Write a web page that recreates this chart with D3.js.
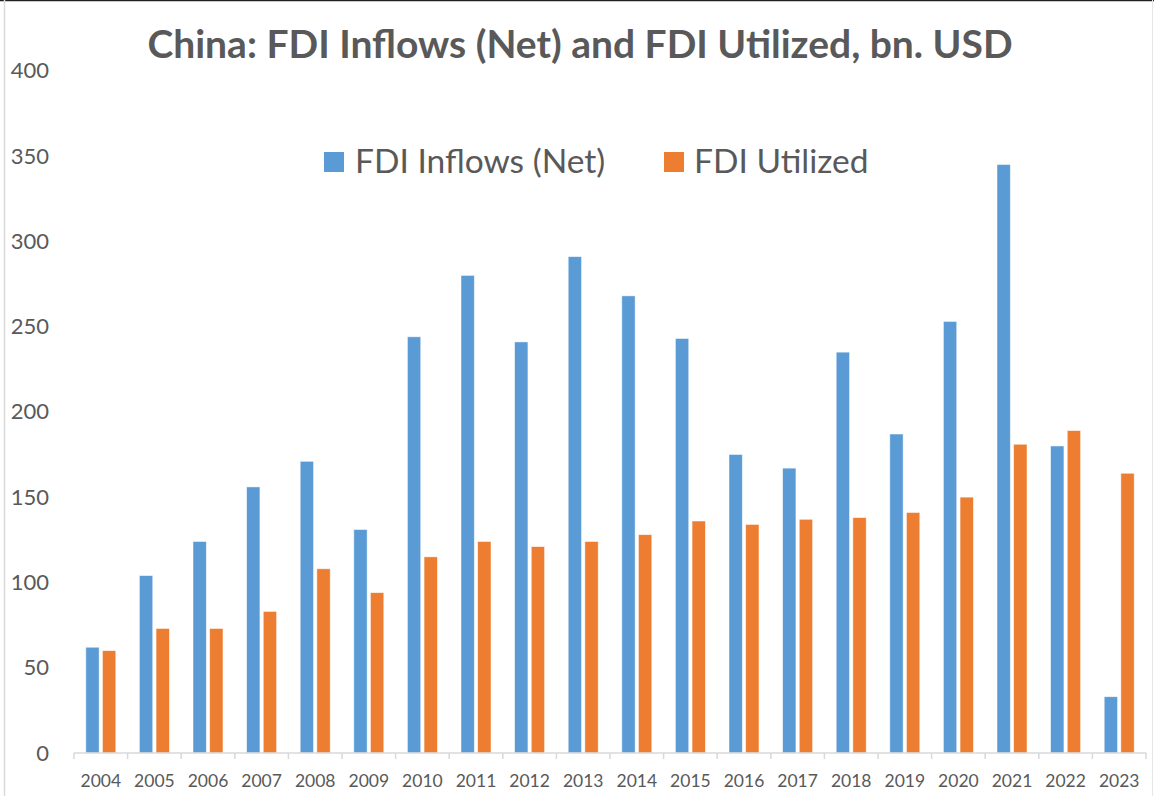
<!DOCTYPE html>
<html>
<head>
<meta charset="utf-8">
<script src="https://cdn.jsdelivr.net/npm/d3@7"></script>
<style>
  html, body { margin: 0; padding: 0; background: #fff; }
  svg { display: block; }
</style>
</head>
<body>
<svg id="chart"></svg>
<script>
const years = ['2004', '2005', '2006', '2007', '2008', '2009', '2010', '2011', '2012', '2013',
  '2014', '2015', '2016', '2017', '2018', '2019', '2020', '2021', '2022', '2023'];
const inflowsNet = [62, 104, 124, 156, 171, 131, 244, 280, 241, 291,
  268, 243, 175, 167, 235, 187, 253, 345, 180, 33];
const utilized = [60, 73, 73, 83, 108, 94, 115, 124, 121, 124,
  128, 136, 134, 137, 138, 141, 150, 181, 189, 164];
const seriesNames = ['FDI Inflows (Net)', 'FDI Utilized'];
const seriesColors = ['#5B9BD5', '#ED7D31'];
const yTicks = [0, 50, 100, 150, 200, 250, 300, 350, 400];

const width = 1154;
const height = 796;
const font = 'Lato, "Open Sans", sans-serif';
const textColor = '#595959';

const svg = d3.select('#chart').attr('width', width).attr('height', height);

svg.append('rect').attr('width', width).attr('height', height).attr('fill', '#fff');

// frame edges, as in the cropped screenshot
svg.append('line').attr('x1', 0).attr('x2', width).attr('y1', 0.5).attr('y2', 0.5)
  .attr('stroke', '#222').attr('stroke-width', 1.5);
svg.append('line').attr('x1', 4.5).attr('x2', 4.5).attr('y1', 0).attr('y2', height)
  .attr('stroke', '#d9d9d9').attr('stroke-width', 1.5);
svg.append('line').attr('x1', width - 1.5).attr('x2', width - 1.5).attr('y1', 0).attr('y2', height)
  .attr('stroke', '#e6e6e6').attr('stroke-width', 1);

const x = d3.scaleBand().domain(years).range([74, 1146]).padding(0);
const inner = d3.scaleBand().domain([0, 1]).range([0, 30]).paddingInner(0.2);
const innerOffset = (x.bandwidth() - 30) / 2;
const y = d3.scaleLinear().domain([0, 400]).range([753, 70.7]);

// title
svg.append('text')
  .attr('x', 580).attr('y', 58)
  .attr('text-anchor', 'middle')
  .attr('font-family', font)
  .attr('font-weight', 'bold')
  .attr('font-size', 39)
  .attr('fill', textColor)
  .text('China: FDI Inflows (Net) and FDI Utilized, bn. USD');

// y axis labels (no line, no gridlines)
const yAxis = d3.axisLeft(y).tickValues(yTicks).tickSize(0).tickPadding(0);
const yg = svg.append('g').attr('transform', 'translate(49,0)').call(yAxis);
yg.select('.domain').remove();
yg.selectAll('text')
  .attr('font-family', font)
  .attr('font-size', 22)
  .attr('fill', textColor);

// bars
const data = years.map((yr, i) => ({ year: yr, values: [inflowsNet[i], utilized[i]] }));
const groups = svg.append('g').selectAll('g')
  .data(data)
  .join('g')
  .attr('transform', d => `translate(${x(d.year) + innerOffset},0)`);

groups.selectAll('rect')
  .data(d => d.values.map((v, s) => ({ v, s })))
  .join('rect')
  .attr('x', d => inner(d.s))
  .attr('y', d => y(d.v))
  .attr('width', inner.bandwidth())
  .attr('height', d => y(0) - y(d.v))
  .attr('fill', d => seriesColors[d.s])
  .attr('stroke', '#fff')
  .attr('stroke-opacity', 0.6)
  .attr('stroke-width', 0.8);

// x axis with ticks between categories
const xg = svg.append('g').attr('transform', `translate(0,${y(0)})`);
xg.append('line')
  .attr('x1', x.range()[0]).attr('x2', x.range()[1])
  .attr('stroke', '#d9d9d9').attr('stroke-width', 1.5);
const boundaries = years.map(yr => x(yr)).concat([x.range()[1]]);
xg.selectAll('.tick-mark')
  .data(boundaries)
  .join('line')
  .attr('class', 'tick-mark')
  .attr('x1', d => d).attr('x2', d => d)
  .attr('y1', 0).attr('y2', 6)
  .attr('stroke', '#d9d9d9').attr('stroke-width', 1.5);
xg.selectAll('.tick-label')
  .data(years)
  .join('text')
  .attr('class', 'tick-label')
  .attr('x', d => x(d) + x.bandwidth() / 2)
  .attr('y', 34)
  .attr('text-anchor', 'middle')
  .attr('font-family', font)
  .attr('font-size', 17.5)
  .attr('fill', textColor)
  .text(d => d);

// legend
const legendItems = [{ x: 324, tx: 355 }, { x: 664, tx: 694 }];
const legend = svg.append('g');
legendItems.forEach((it, i) => {
  legend.append('rect')
    .attr('x', it.x).attr('y', 152)
    .attr('width', 20).attr('height', 20)
    .attr('fill', seriesColors[i]);
  legend.append('text')
    .attr('x', it.tx).attr('y', 173)
    .attr('font-family', font)
    .attr('font-size', 33.5)
    .attr('fill', textColor)
    .text(seriesNames[i]);
});
</script>
</body>
</html>
